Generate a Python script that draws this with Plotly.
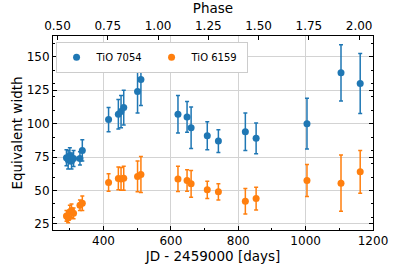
import plotly.graph_objects as go

# Dates (JD - 2459000)
days = [290, 295, 300, 305, 311, 330, 337,
        415, 444, 452, 460, 501, 511,
        621, 648, 660, 708, 741, 821, 853,
        1004, 1105, 1162]

# TiO 7054 equivalent widths and errors
tio7054 = [74.5, 73, 76, 72, 74, 74, 80,
           103, 107, 109, 112, 124, 133,
           107, 105, 97, 91, 87, 94, 89,
           100, 138, 130]
tio7054_err = [6, 7, 6, 6, 6, 5, 8,
               9, 11, 12, 13, 16, 19.5,
               14, 11.5, 15.5, 10.5, 8.5, 14, 11.5,
               19, 21, 22.5]

# TiO 6159 equivalent widths and errors
tio6159 = [31, 29.5, 34, 35, 33, 39, 40.5,
           56, 59, 58.7, 59.2, 60.5, 62,
           58.7, 57.5, 55, 50.5, 49, 42, 44,
           57.5, 55.5, 64]
tio6159_err = [4, 3.5, 5, 5, 4, 4, 5.5,
               6.5, 8.5, 8.5, 9, 11.5, 13.5,
               9.5, 8, 10, 6.5, 6, 9.5, 8.5,
               12, 21, 16]

x_ticks = [400, 600, 800, 1000, 1200]
y_ticks = [25, 50, 75, 100, 125, 150]
phase_ticks = [0.50, 0.75, 1.00, 1.25, 1.50, 1.75, 2.00]

x_range = [250, 1200]
y_range = [20.5, 165.5]
phase_range = [0.4776, 2.069]

blue = "#1f77b4"
orange = "#ff7f0e"
font = "DejaVu Sans"

fig = go.Figure()
for name, vals, errs, col in [("TiO 7054", tio7054, tio7054_err, blue),
                              ("TiO 6159", tio6159, tio6159_err, orange)]:
    fig.add_trace(go.Scatter(
        x=days, y=vals, mode="markers", name=name,
        marker=dict(color=col, size=7),
        error_y=dict(type="data", array=errs, color=col, thickness=1.5, width=2),
    ))

axis_common = dict(
    showline=True, linecolor="black", linewidth=1,
    ticks="inside", tickcolor="black", ticklen=4, tickwidth=1,
    tickfont=dict(family=font, size=12, color="black"),
    zeroline=False, automargin=False,
)

fig.update_layout(
    width=396, height=271,
    margin=dict(l=53, r=23, t=36, b=41),
    paper_bgcolor="white", plot_bgcolor="white",
    font=dict(family=font, color="black"),
    xaxis=dict(
        range=x_range, tickvals=x_ticks, showgrid=True, gridcolor="#d3d3d3", gridwidth=1,
        minor=dict(dtick=100, tick0=0, ticks="inside", ticklen=2, tickcolor="black", showgrid=False),
        title=dict(text="JD - 2459000 [days]", font=dict(size=13.5, family=font), standoff=1),
        **axis_common,
    ),
    xaxis2=dict(
        range=phase_range, tickvals=phase_ticks, ticktext=[f"{p:.2f}" for p in phase_ticks],
        overlaying="x", side="top", showgrid=False,
        title=dict(text="Phase", font=dict(size=13.5, family=font), standoff=2),
        **axis_common,
    ),
    yaxis=dict(
        range=y_range, tickvals=y_ticks, showgrid=True, gridcolor="#d3d3d3", gridwidth=1,
        mirror="ticks",
        minor=dict(dtick=10, tick0=0, ticks="inside", ticklen=2, tickcolor="black", showgrid=False),
        title=dict(text="Equivalent width", font=dict(size=13.5, family=font), standoff=0),
        **axis_common,
    ),
    legend=dict(
        x=0.008, y=0.97, xanchor="left", yanchor="top", orientation="h",
        bgcolor="white", bordercolor="#cccccc", borderwidth=1,
        font=dict(family=font, size=10), entrywidth=50, itemwidth=30,
        tracegroupgap=0,
    ),
    showlegend=True,
)

# dummy trace to anchor the top phase axis
fig.add_trace(go.Scatter(x=phase_range, y=[None, None], xaxis="x2", mode="markers",
                         showlegend=False, hoverinfo="skip"))

fig.write_html("out.html", config={"displayModeBar": False},
               post_script="document.body.style.margin='0px';")
